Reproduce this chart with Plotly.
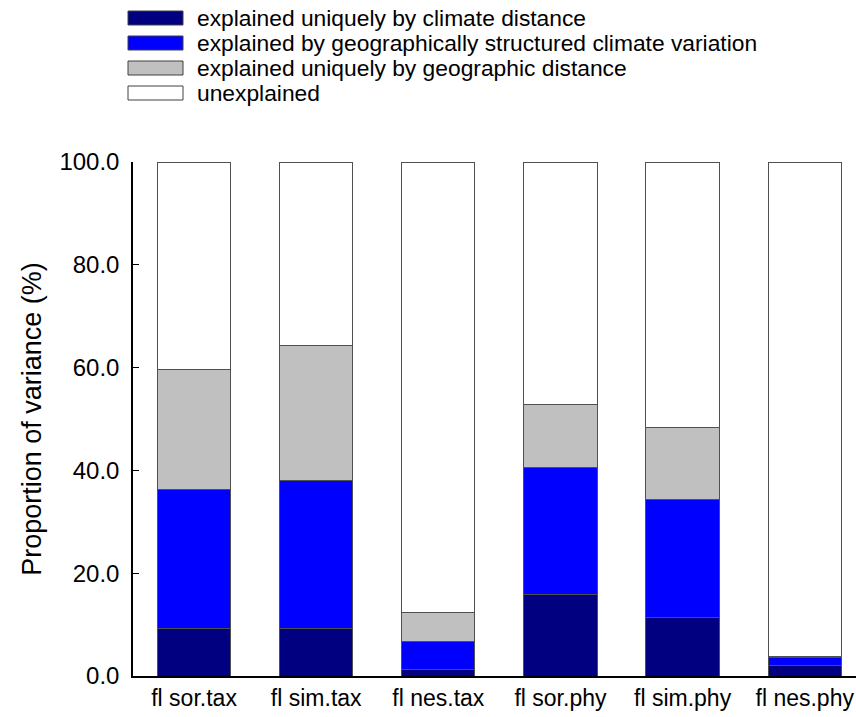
import plotly.graph_objects as go

categories = ["fl sor.tax", "fl sim.tax", "fl nes.tax", "fl sor.phy", "fl sim.phy", "fl nes.phy"]
climate_unique = [9.3, 9.3, 1.2, 15.9, 11.4, 2.0]
shared_geo_climate = [27.0, 28.8, 5.5, 24.7, 22.9, 1.6]
geo_unique = [23.4, 26.2, 5.7, 12.3, 14.0, 0.2]
unexplained = [round(100 - a - b - c, 1) for a, b, c in zip(climate_unique, shared_geo_climate, geo_unique)]

series_names = [
    "explained uniquely by climate distance",
    "explained by geographically structured climate variation",
    "explained uniquely by geographic distance",
    "unexplained",
]
series_values = [climate_unique, shared_geo_climate, geo_unique, unexplained]
colors = ["#000080", "#0000FF", "#C0C0C0", "#FFFFFF"]
y_ticks = [0, 20, 40, 60, 80, 100]

W, H = 856, 717
L, R, T, B = 133, 0, 162, 41
FONT = "Liberation Sans, Arial, sans-serif"

fig = go.Figure()
for name, vals, col in zip(series_names, series_values, colors):
    fig.add_trace(go.Bar(
        x=categories, y=vals, name=name,
        marker=dict(color=col, line=dict(color="#505050", width=1)),
        showlegend=False,
    ))

# manual legend with wide swatches (pixel coordinates converted to paper)
def px2paper_x(px):
    return (px - L) / (W - L - R)

def px2paper_y(py):
    return (H - B - py) / (H - T - B)

row_centers = [18, 43, 68, 93]
for name, col, yc in zip(series_names, colors, row_centers):
    fig.add_shape(type="rect", xref="paper", yref="paper",
                  x0=px2paper_x(128), x1=px2paper_x(183),
                  y0=px2paper_y(yc + 7), y1=px2paper_y(yc - 7),
                  fillcolor=col, line=dict(color="#404040", width=1))
    fig.add_annotation(xref="paper", yref="paper", x=px2paper_x(195), y=px2paper_y(yc),
                       text=name, showarrow=False, xanchor="left", yanchor="middle",
                       font=dict(size=22.8, color="#000000", family=FONT))

fig.update_layout(
    barmode="stack",
    bargap=0.4,
    width=W, height=H,
    margin=dict(l=L, r=R, t=T, b=B, pad=0),
    paper_bgcolor="white", plot_bgcolor="white",
    font=dict(family=FONT, size=23, color="#000000"),
    xaxis=dict(
        range=[-0.5, 5.42], showline=True, linecolor="#000000", linewidth=1.5,
        ticks="", tickfont=dict(size=23), showgrid=False, zeroline=False,
        ticklabelstandoff=1,
    ),
    yaxis=dict(
        range=[0, 100], tickvals=y_ticks, tickformat=".1f",
        showline=True, linecolor="#000000", linewidth=1.5,
        ticks="inside", ticklen=6, tickcolor="#000000",
        ticklabelstandoff=7,
        tickfont=dict(size=24), showgrid=False, zeroline=False,
        title=dict(text="Proportion of variance (%)", font=dict(size=27), standoff=10),
    ),
)

fig.write_html("out.html", config={"displayModeBar": False},
               post_script="document.body.style.margin='0';")
